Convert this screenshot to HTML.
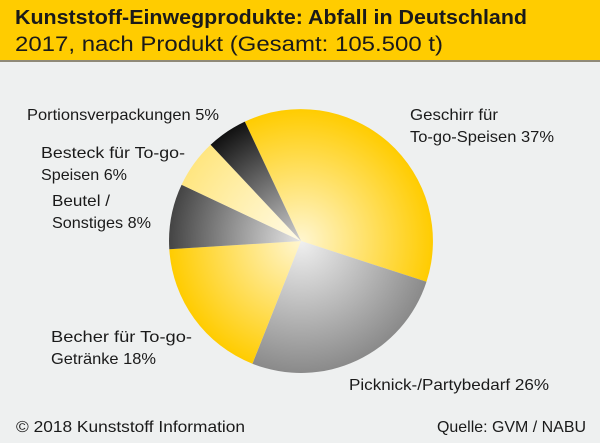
<!DOCTYPE html>
<html><head><meta charset="utf-8"><style>
html,body{margin:0;padding:0;background:#eef0f0}
svg{display:block;font-family:"Liberation Sans",sans-serif}
</style></head><body>
<svg width="600" height="443" viewBox="0 0 600 443" xmlns="http://www.w3.org/2000/svg">
<defs>
<radialGradient id="gy" cx="301" cy="241" r="132" gradientUnits="userSpaceOnUse"><stop offset="0" stop-color="#fff6d0"/><stop offset="1" stop-color="#ffcc00"/></radialGradient>
<radialGradient id="gg" cx="301" cy="241" r="132" gradientUnits="userSpaceOnUse"><stop offset="0" stop-color="#f0f0f0"/><stop offset="1" stop-color="#8a8a8a"/></radialGradient>
<radialGradient id="gd" cx="301" cy="241" r="132" gradientUnits="userSpaceOnUse"><stop offset="0" stop-color="#e6e6e6"/><stop offset="1" stop-color="#444"/></radialGradient>
<radialGradient id="gk" cx="301" cy="241" r="132" gradientUnits="userSpaceOnUse"><stop offset="0" stop-color="#cfcfcf"/><stop offset="1" stop-color="#111"/></radialGradient>
<radialGradient id="gl" cx="301" cy="241" r="132" gradientUnits="userSpaceOnUse"><stop offset="0" stop-color="#fffbe8"/><stop offset="1" stop-color="#ffe680"/></radialGradient>
</defs>
<rect x="0" y="0" width="600" height="60" fill="#ffcc00"/>
<rect x="0" y="60" width="600" height="2" fill="#8f8a78"/>
<text x="15" y="24" font-size="20" font-weight="bold" fill="#1a1a1a" textLength="512" lengthAdjust="spacingAndGlyphs">Kunststoff-Einwegprodukte: Abfall in Deutschland</text>
<text x="15" y="51" font-size="21" fill="#1a1a1a" textLength="428" lengthAdjust="spacingAndGlyphs">2017, nach Produkt (Gesamt: 105.500 t)</text>
<path d="M301 241 L244.8 121.6 A132 132 0 0 1 426.5 281.8 Z" fill="url(#gy)"/>
<path d="M301 241 L426.5 281.8 A132 132 0 0 1 252.4 363.7 Z" fill="url(#gg)"/>
<path d="M301 241 L252.4 363.7 A132 132 0 0 1 169.3 249.3 Z" fill="url(#gy)"/>
<path d="M301 241 L169.3 249.3 A132 132 0 0 1 181.6 184.8 Z" fill="url(#gd)"/>
<path d="M301 241 L181.6 184.8 A132 132 0 0 1 210.6 144.8 Z" fill="url(#gl)"/>
<path d="M301 241 L210.6 144.8 A132 132 0 0 1 244.8 121.6 Z" fill="url(#gk)"/>
<g font-size="16" fill="#1a1a1a" lengthAdjust="spacingAndGlyphs">
<text x="27" y="120" textLength="192" lengthAdjust="spacingAndGlyphs">Portionsverpackungen 5%</text>
<text x="41" y="158" textLength="144" lengthAdjust="spacingAndGlyphs">Besteck für To-go-</text>
<text x="41" y="180" textLength="86" lengthAdjust="spacingAndGlyphs">Speisen 6%</text>
<text x="52" y="206" textLength="58" lengthAdjust="spacingAndGlyphs">Beutel /</text>
<text x="52" y="228" textLength="99" lengthAdjust="spacingAndGlyphs">Sonstiges 8%</text>
<text x="410" y="120" textLength="88" lengthAdjust="spacingAndGlyphs">Geschirr für</text>
<text x="410" y="142" textLength="144" lengthAdjust="spacingAndGlyphs">To-go-Speisen 37%</text>
<text x="51" y="342" textLength="141" lengthAdjust="spacingAndGlyphs">Becher für To-go-</text>
<text x="51" y="364" textLength="105" lengthAdjust="spacingAndGlyphs">Getränke 18%</text>
<text x="349" y="390" textLength="200" lengthAdjust="spacingAndGlyphs">Picknick-/Partybedarf 26%</text>
<text x="16" y="432" textLength="229" lengthAdjust="spacingAndGlyphs">© 2018 Kunststoff Information</text>
<text x="437" y="432" textLength="149" lengthAdjust="spacingAndGlyphs">Quelle: GVM / NABU</text>
</g>
</svg>
</body></html>
